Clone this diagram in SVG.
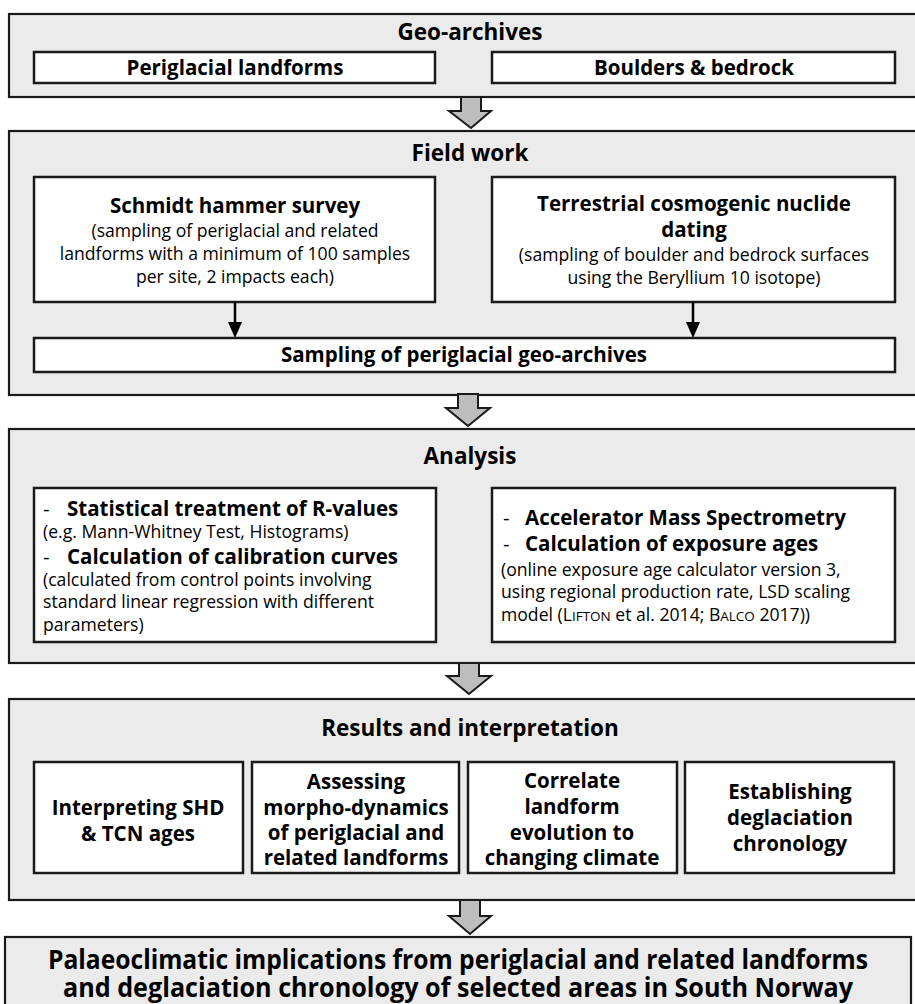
<svg xmlns="http://www.w3.org/2000/svg" width="915" height="1004" viewBox="0 0 915 1004">
<style>
.outer{fill:#ebebeb;stroke:#1a1a1a;stroke-width:2.2}
.inner{fill:#ffffff;stroke:#1a1a1a;stroke-width:2.5}
.big{fill:#bdbdbd;stroke:#1a1a1a;stroke-width:2;stroke-linejoin:miter}
text{font-family:"Open Sans","Noto Sans","Liberation Sans",sans-serif;fill:#000}
.t{font-size:22.5px;font-weight:bold;text-anchor:middle}
.b{font-size:20.5px;font-weight:bold;text-anchor:middle}
.bl{font-size:20.5px;font-weight:bold}
.r{font-size:17.6px;text-anchor:middle}
.rl{font-size:17.6px}
.fin{font-size:26px;font-weight:bold;text-anchor:middle}
.sc{font-size:13.5px}
</style>

<g id="geo-archives">
<rect class="outer" x="9" y="14" width="908" height="83"/>
<text class="t" x="470" y="40">Geo-archives</text>
</g>
<g id="periglacial-landforms">
<rect class="inner" x="34" y="52" width="401" height="31"/>
<text class="b" x="235" y="75">Periglacial landforms</text>
</g>
<g id="boulders-bedrock">
<rect class="inner" x="492" y="52" width="403" height="31"/>
<text class="b" x="694" y="75">Boulders &amp; bedrock</text>
</g>

<g id="field-work">
<rect class="outer" x="9" y="131" width="908" height="264"/>
<text class="t" x="470" y="161">Field work</text>
</g>
<g id="schmidt-hammer">
<rect class="inner" x="34" y="177" width="401" height="125"/>
<text class="b" x="235" y="213">Schmidt hammer survey</text>
<text class="r" x="235" y="237">(sampling of periglacial and related</text>
<text class="r" x="235" y="260">landforms with a minimum of 100 samples</text>
<text class="r" x="235" y="283">per site, 2 impacts each)</text>
</g>
<g id="tcn-dating">
<rect class="inner" x="492" y="177" width="403" height="125"/>
<text class="b" x="694" y="211">Terrestrial cosmogenic nuclide</text>
<text class="b" x="694" y="237">dating</text>
<text class="r" x="694" y="261">(sampling of boulder and bedrock surfaces</text>
<text class="r" x="694" y="284">using the Beryllium 10 isotope)</text>
</g>
<g id="sampling">
<rect class="inner" x="34" y="338" width="861" height="34"/>
<text class="b" x="464" y="362">Sampling of periglacial geo-archives</text>
</g>

<g id="analysis">
<rect class="outer" x="9" y="429" width="908" height="234"/>
<text class="t" x="470" y="464">Analysis</text>
</g>
<g id="analysis-shd">
<rect class="inner" x="34" y="488" width="402" height="154"/>
<text class="bl" x="43" y="516"><tspan font-weight="normal">-</tspan><tspan x="67">Statistical treatment of R-values</tspan></text>
<text class="rl" x="43" y="538">(e.g. Mann-Whitney Test, Histograms)</text>
<text class="bl" x="43" y="564"><tspan font-weight="normal">-</tspan><tspan x="67">Calculation of calibration curves</tspan></text>
<text class="rl" x="43" y="586">(calculated from control points involving</text>
<text class="rl" x="43" y="608">standard linear regression with different</text>
<text class="rl" x="43" y="631">parameters)</text>
</g>
<g id="analysis-tcn">
<rect class="inner" x="492" y="488" width="403" height="154"/>
<text class="bl" x="503" y="525"><tspan font-weight="normal">-</tspan><tspan x="525">Accelerator Mass Spectrometry</tspan></text>
<text class="bl" x="503" y="551"><tspan font-weight="normal">-</tspan><tspan x="525">Calculation of exposure ages</tspan></text>
<text class="rl" x="501" y="576">(online exposure age calculator version 3,</text>
<text class="rl" x="501" y="598">using regional production rate, LSD scaling</text>
<text class="rl" x="501" y="621">model (L<tspan class="sc">IFTON</tspan> et al. 2014; B<tspan class="sc">ALCO</tspan> 2017))</text>
</g>

<g id="results">
<rect class="outer" x="9" y="699" width="908" height="201"/>
<text class="t" x="470" y="736">Results and interpretation</text>
</g>
<g id="res-1">
<rect class="inner" x="34" y="762" width="209" height="111"/>
<text class="b" x="138" y="815">Interpreting SHD</text>
<text class="b" x="138" y="841">&amp; TCN ages</text>
</g>
<g id="res-2">
<rect class="inner" x="252" y="762" width="207" height="111"/>
<text class="b" x="356" y="789">Assessing</text>
<text class="b" x="356" y="815">morpho-dynamics</text>
<text class="b" x="356" y="840">of periglacial and</text>
<text class="b" x="356" y="865">related landforms</text>
</g>
<g id="res-3">
<rect class="inner" x="468" y="762" width="209" height="111"/>
<text class="b" x="572" y="788">Correlate</text>
<text class="b" x="572" y="814">landform</text>
<text class="b" x="572" y="840">evolution to</text>
<text class="b" x="572" y="865">changing climate</text>
</g>
<g id="res-4">
<rect class="inner" x="685" y="762" width="209" height="111"/>
<text class="b" x="790" y="799">Establishing</text>
<text class="b" x="790" y="825">deglaciation</text>
<text class="b" x="790" y="851">chronology</text>
</g>

<g id="final">
<rect class="outer" x="5" y="937" width="906" height="80"/>
<text class="fin" x="458" y="969" textLength="820" lengthAdjust="spacingAndGlyphs">Palaeoclimatic implications from periglacial and related landforms</text>
<text class="fin" x="458" y="997" textLength="790" lengthAdjust="spacingAndGlyphs">and deglaciation chronology of selected areas in South Norway</text>
</g>

<g id="connectors">
<line x1="235" y1="302" x2="235" y2="324" stroke="#000" stroke-width="2.5"/>
<path d="M228,322 L242,322 L235,338 Z" fill="#000"/>
<line x1="693" y1="302" x2="693" y2="324" stroke="#000" stroke-width="2.5"/>
<path d="M686,322 L700,322 L693,338 Z" fill="#000"/>
<path class="big" d="M461,97 L481,97 L481,111 L491,111 L471,128 L449,111 L461,111 Z"/>
<path class="big" d="M458,394 L478,394 L478,408 L490,408 L468,426 L446,408 L458,408 Z"/>
<path class="big" d="M459,663 L479,663 L479,676 L491,676 L469,694 L447,676 L459,676 Z"/>
<path class="big" d="M460,900 L480,900 L480,916 L491,916 L470,934 L449,916 L460,916 Z"/>
</g>
</svg>
